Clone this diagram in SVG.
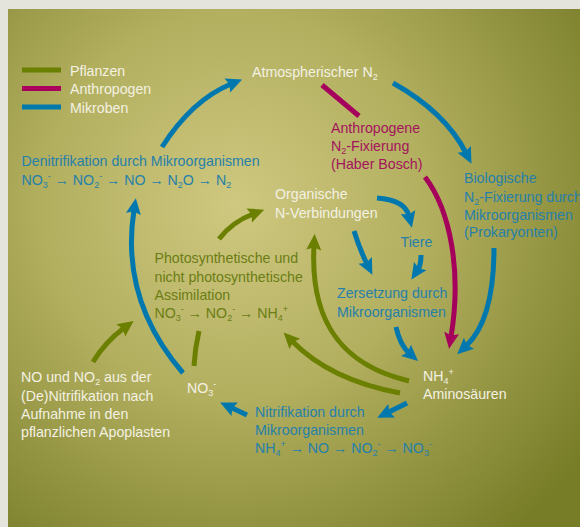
<svg xmlns="http://www.w3.org/2000/svg" width="580" height="527" viewBox="0 0 580 527">
<defs>
<radialGradient id="bg" gradientUnits="userSpaceOnUse" cx="235" cy="205" r="430">
<stop offset="0" stop-color="#cfc880"/>
<stop offset="0.45" stop-color="#b2af5f"/>
<stop offset="1" stop-color="#777c27"/>
</radialGradient>
<marker id="ab" markerUnits="userSpaceOnUse" markerWidth="30" markerHeight="30" viewBox="-10 -15 30 30" refX="0" refY="0" orient="auto"><path d="M-4,-7.5 L12,0 L-4,7.5 L-1.5,0 Z" fill="#0078ae"/></marker>
<marker id="ag" markerUnits="userSpaceOnUse" markerWidth="30" markerHeight="30" viewBox="-10 -15 30 30" refX="0" refY="0" orient="auto"><path d="M-4,-7.5 L12,0 L-4,7.5 L-1.5,0 Z" fill="#6b7f00"/></marker>
<marker id="am" markerUnits="userSpaceOnUse" markerWidth="30" markerHeight="30" viewBox="-10 -15 30 30" refX="0" refY="0" orient="auto"><path d="M-4,-7.5 L12,0 L-4,7.5 L-1.5,0 Z" fill="#a5005b"/></marker>
</defs>
<style>
.t{font-family:"Liberation Sans",Arial,sans-serif;font-size:14.2px}
.s{font-size:9px}
.w{fill:#f3f1e2}
.g{fill:#6b7d14}
.b{fill:#2680aa}
.m{fill:#a3145c}
.cb{fill:none;stroke:#0078ae;stroke-width:5}
.cg{fill:none;stroke:#6b7f00;stroke-width:5}
.cm{fill:none;stroke:#a5005b;stroke-width:5}
</style>
<rect x="0" y="0" width="580" height="527" fill="#e4e4dc"/>
<rect x="8" y="9" width="572" height="518" fill="url(#bg)"/>

<g id="legend">
<line x1="22" y1="70" x2="61" y2="70" stroke="#6b8000" stroke-width="5"/>
<line x1="22" y1="88.5" x2="61" y2="88.5" stroke="#a8005c" stroke-width="5"/>
<line x1="22" y1="107" x2="61" y2="107" stroke="#0079ad" stroke-width="5"/>
<text class="t w" x="70" y="75.5">Pflanzen</text>
<text class="t w" x="70" y="94">Anthropogen</text>
<text class="t w" x="70" y="112.5">Mikroben</text>
</g>

<g id="connectors">
<path class="cb" d="M162,147 Q192,100 231,84" marker-end="url(#ab)"/>
<path class="cb" d="M393,83 Q445,112 466,153" marker-end="url(#ab)"/>
<path class="cm" d="M322,85 L359,116"/>
<path class="cm" d="M425,177 C450,210 462,270 451,337" marker-end="url(#am)"/>
<path class="cb" d="M494,248 Q494,320 466,346" marker-end="url(#ab)"/>
<path class="cb" d="M377,198 Q405,200 409,216" marker-end="url(#ab)"/>
<path class="cb" d="M354,231 Q360,250 367,264" marker-end="url(#ab)"/>
<path class="cb" d="M421,255 Q421,265 418,269.5" marker-end="url(#ab)"/>
<path class="cb" d="M396,327 Q400,345 409,353" marker-end="url(#ab)"/>
<path class="cb" d="M407,403 L388,412.5" marker-end="url(#ab)"/>
<path class="cb" d="M247,415 L231,407.5" marker-end="url(#ab)"/>
<path class="cb" d="M183,373 Q120,300 134,210" marker-end="url(#ab)"/>
<path class="cg" d="M219,239 Q232,222 253,214" marker-end="url(#ag)"/>
<path class="cg" d="M93,362 Q105,342 124,328" marker-end="url(#ag)"/>
<path class="cg" d="M194,366 Q195,348 199,331"/>
<path class="cg" d="M409,381 C340,365 310,320 314,246" marker-end="url(#ag)"/>
<path class="cg" d="M400,393 Q330,380 292,341" marker-end="url(#ag)"/>
</g>

<g id="atm-n2">
<text class="t w" x="252" y="77">Atmospherischer N<tspan class="s" baseline-shift="-3">2</tspan></text>
</g>

<g id="haber-bosch">
<text class="t m" x="331" y="133">Anthropogene</text>
<text class="t m" x="331" y="151">N<tspan class="s" baseline-shift="-3">2</tspan>-Fixierung</text>
<text class="t m" x="331" y="168.5">(Haber Bosch)</text>
</g>

<g id="denitrifikation">
<text class="t b" x="21.5" y="166">Denitrifikation durch Mikroorganismen</text>
<text class="t b" x="21.5" y="185">NO<tspan class="s" baseline-shift="-3">3</tspan><tspan class="s" baseline-shift="6">-</tspan> → NO<tspan class="s" baseline-shift="-3">2</tspan><tspan class="s" baseline-shift="6">-</tspan> → NO → N<tspan class="s" baseline-shift="-3">2</tspan>O → N<tspan class="s" baseline-shift="-3">2</tspan></text>
</g>

<g id="biologische">
<text class="t b" x="464" y="183">Biologische</text>
<text class="t b" x="464" y="201.5">N<tspan class="s" baseline-shift="-3">2</tspan>-Fixierung durch</text>
<text class="t b" x="464" y="219.5">Mikroorganismen</text>
<text class="t b" x="464" y="237">(Prokaryonten)</text>
</g>

<g id="organische">
<text class="t w" x="275" y="199">Organische</text>
<text class="t w" x="275" y="217.5">N-Verbindungen</text>
</g>

<g id="tiere">
<text class="t b" x="400.5" y="246.5">Tiere</text>
</g>

<g id="zersetzung">
<text class="t b" x="337" y="298">Zersetzung durch</text>
<text class="t b" x="337" y="316.5">Mikroorganismen</text>
</g>

<g id="assimilation">
<text class="t g" x="154.5" y="262.5">Photosynthetische und</text>
<text class="t g" x="154.5" y="281.5">nicht photosynthetische</text>
<text class="t g" x="154.5" y="299.5">Assimilation</text>
<text class="t g" x="154.5" y="318">NO<tspan class="s" baseline-shift="-3">3</tspan><tspan class="s" baseline-shift="6">-</tspan> → NO<tspan class="s" baseline-shift="-3">2</tspan><tspan class="s" baseline-shift="6">-</tspan> → NH<tspan class="s" baseline-shift="-3">4</tspan><tspan class="s" baseline-shift="6">+</tspan></text>
</g>

<g id="no-no2">
<text class="t w" x="21" y="382">NO und NO<tspan class="s" baseline-shift="-3">2</tspan> aus der</text>
<text class="t w" x="21" y="400.5">(De)Nitrifikation nach</text>
<text class="t w" x="21" y="418.5">Aufnahme in den</text>
<text class="t w" x="21" y="437">pflanzlichen Apoplasten</text>
</g>

<g id="no3">
<text class="t w" x="187" y="393">NO<tspan class="s" baseline-shift="-3">3</tspan><tspan class="s" baseline-shift="6">-</tspan></text>
</g>

<g id="nh4">
<text class="t w" x="423" y="381">NH<tspan class="s" baseline-shift="-3">4</tspan><tspan class="s" baseline-shift="6">+</tspan></text>
<text class="t w" x="423" y="398.5">Aminosäuren</text>
</g>

<g id="nitrifikation">
<text class="t b" x="255" y="417">Nitrifikation durch</text>
<text class="t b" x="255" y="435">Mikroorganismen</text>
<text class="t b" x="255" y="453">NH<tspan class="s" baseline-shift="-3">4</tspan><tspan class="s" baseline-shift="6">+</tspan> → NO → NO<tspan class="s" baseline-shift="-3">2</tspan><tspan class="s" baseline-shift="6">-</tspan> → NO<tspan class="s" baseline-shift="-3">3</tspan><tspan class="s" baseline-shift="6">-</tspan></text>
</g>
</svg>
